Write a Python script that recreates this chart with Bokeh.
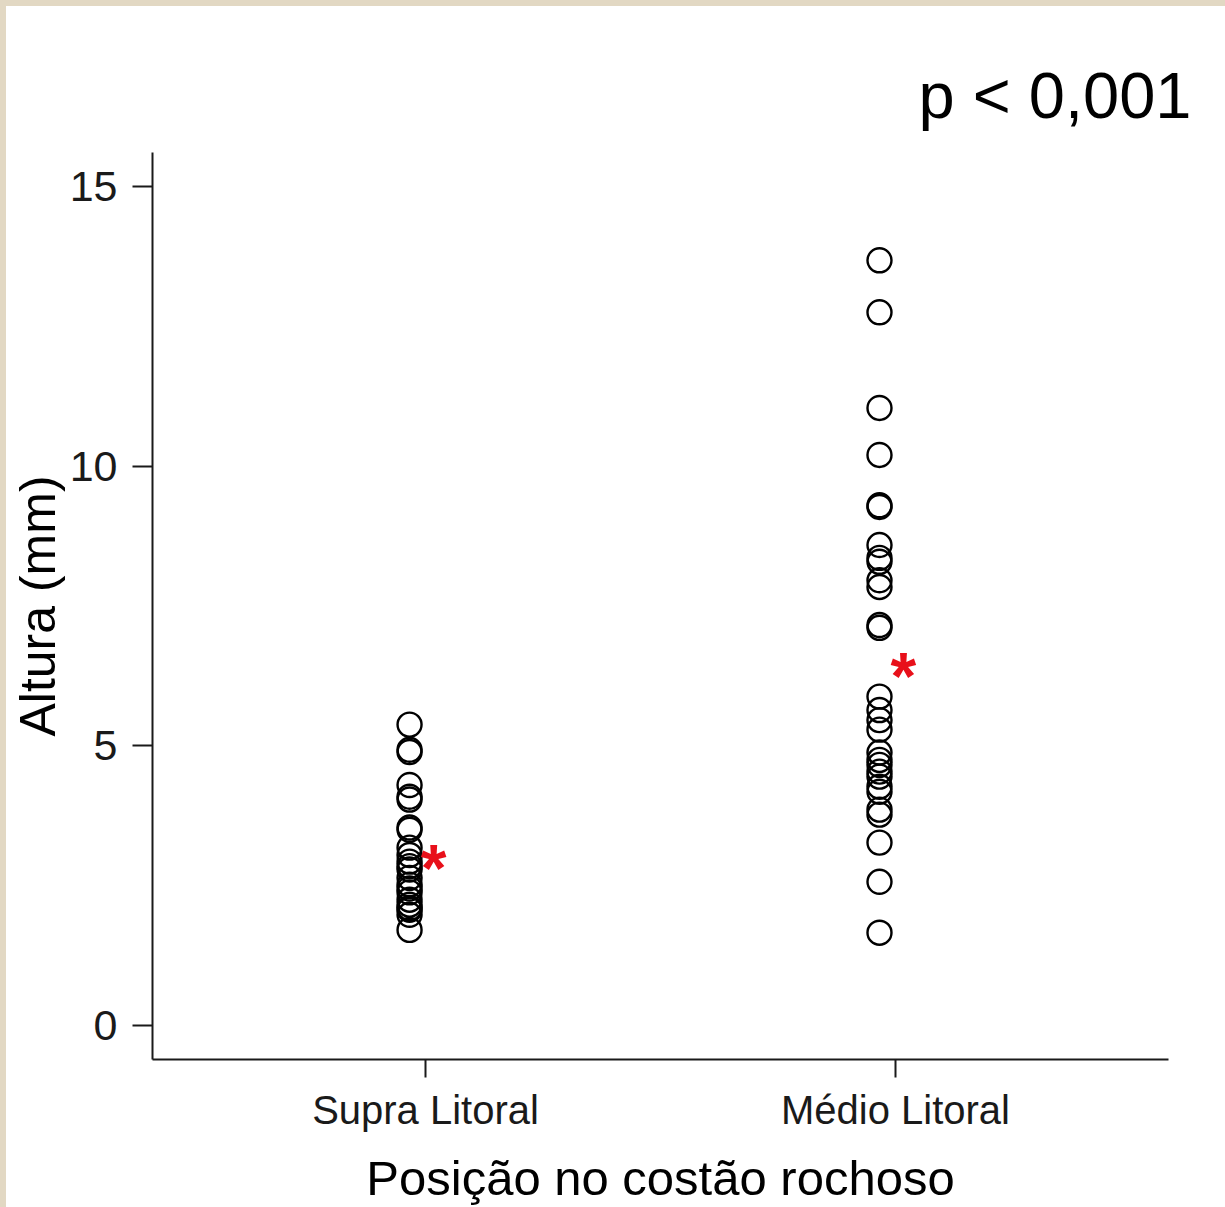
from bokeh.plotting import figure
from bokeh.models import FixedTicker, GlobalInlineStyleSheet, ColumnDataSource, Title
from bokeh.embed import file_html
from bokeh.resources import INLINE
from bokeh.core.properties import value

# ---- data ----
categories = ["Supra Litoral", "Médio Litoral"]
supra_altura = [5.38, 4.93, 4.89, 4.30, 4.09, 4.04, 3.54, 3.50, 3.18, 3.05,
                2.93, 2.85, 2.79, 2.64, 2.52, 2.45, 2.38, 2.25, 2.16, 2.10,
                2.07, 1.98, 1.71]
medio_altura = [13.68, 12.75, 11.04, 10.20, 9.30, 9.27, 8.59, 8.36, 8.29, 7.96,
                7.84, 7.16, 7.11, 5.88, 5.64, 5.46, 5.29, 4.88, 4.75, 4.66,
                4.54, 4.45, 4.27, 4.18, 3.86, 3.77, 3.27, 2.57, 1.66]
medias = [3.00, 6.43]
y_ticks = [0, 5, 10, 15]
p_text = "p < 0,001"

FONT = "Liberation Sans"

W, H = 1219, 1201
p = figure(width=W, height=H, output_backend="svg", toolbar_location=None,
           x_range=(0.419, 2.581), y_range=(-0.607, 15.607),
           min_border_left=146, min_border_right=57,
           min_border_top=146, min_border_bottom=147)

p.stylesheets = [GlobalInlineStyleSheet(css=(
    "body{background: linear-gradient(to right, #e2d8c3 6px, rgba(255,255,255,0) 6px),"
    " linear-gradient(to bottom, #e2d8c3 6px, #ffffff 6px) !important;"
    " padding:6px 0 0 6px !important; margin:0 !important;"
    " box-sizing:border-box; overflow:hidden;}"))]

p.background_fill_color = "white"
p.border_fill_color = "white"
p.outline_line_color = None
p.xgrid.visible = False
p.ygrid.visible = False

# p-value text, top right
p.add_layout(Title(text=p_text, align="right", text_font=FONT,
                   text_font_size="65px", text_font_style="normal",
                   text_color="black", offset=-23, standoff=42), "above")

# points
pt_off = -0.034
xs, ys = [], []
for i, vals in enumerate([supra_altura, medio_altura]):
    for v in vals:
        xs.append(i + 1 + pt_off)
        ys.append(v)
src = ColumnDataSource(dict(x=xs, y=ys))
p.scatter("x", "y", source=src, marker="circle", size=24, fill_color=None,
          line_color="black", line_width=2.4)

# means (red asterisks)
star_off = 0.017
msrc = ColumnDataSource(dict(x=[i + 1 + star_off for i in range(len(categories))],
                             y=medias, t=["*"] * len(categories)))
p.text("x", "y", text="t", source=msrc, text_color="#e8101a",
       text_font=value(FONT), text_font_size="66px", text_font_style="bold",
       text_align="center", text_baseline="alphabetic", y_offset=10)

# axes
for ax in (p.xaxis[0], p.yaxis[0]):
    ax.axis_line_color = "#1a1a1a"
    ax.axis_line_width = 2
    ax.major_tick_line_color = "#1a1a1a"
    ax.major_tick_line_width = 2
    ax.major_tick_out = 20
    ax.major_tick_in = 0
    ax.minor_tick_line_color = None
    ax.major_label_text_font = FONT
    ax.major_label_text_color = "#1a1a1a"
    ax.axis_label_text_font = FONT
    ax.axis_label_text_font_style = "normal"
    ax.axis_label_text_color = "black"
    ax.major_label_text_line_height = 1.0
    ax.axis_label_text_line_height = 1.0

p.xaxis.ticker = FixedTicker(ticks=[1, 2])
p.xaxis.major_label_overrides = {1: categories[0], 2: categories[1]}
p.xaxis.major_tick_out = 18
p.xaxis.major_label_text_font_size = "40px"
p.xaxis.major_label_standoff = 10
p.xaxis.axis_label = "Posição no costão rochoso"
p.xaxis.axis_label_text_font_size = "49px"
p.xaxis.axis_label_standoff = 16

p.yaxis.ticker = FixedTicker(ticks=y_ticks)
p.yaxis.major_label_text_font_size = "43px"
p.yaxis.major_label_standoff = 15
p.yaxis.axis_label = "Altura (mm)"
p.yaxis.axis_label_text_font_size = "50px"
p.yaxis.axis_label_standoff = 1

open("out.html", "w").write(file_html(p, INLINE))
